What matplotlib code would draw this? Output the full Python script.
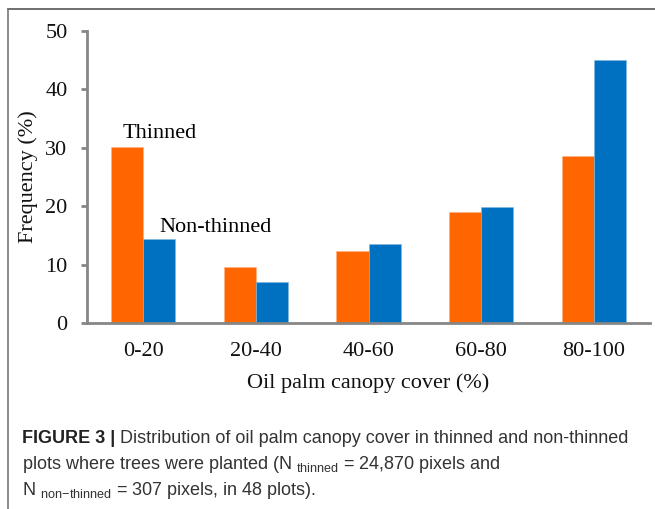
import numpy as np
import matplotlib
matplotlib.use("Agg")
import matplotlib.pyplot as plt
from matplotlib.lines import Line2D

# data
categories = ["0-20", "20-40", "40-60", "60-80", "80-100"]
thinned = [30.1, 9.6, 12.4, 19.0, 28.6]
non_thinned = [14.3, 7.1, 13.6, 19.8, 45.0]
yticks = [0, 10, 20, 30, 40, 50]

plt.rcParams['mathtext.fontset'] = 'custom'
plt.rcParams['mathtext.rm'] = 'Liberation Sans'
plt.rcParams['mathtext.it'] = 'Liberation Sans:italic'

W, H = 655, 509
fig = plt.figure(figsize=(W / 100, H / 100), dpi=100)
ax = fig.add_axes([87 / W, 1 - 323 / H, 563 / W, 292 / H])

serif = 'Liberation Serif'
gray = '#868686'
x = np.arange(len(categories))
w = 0.285
ax.bar(x - w / 2, thinned, w, color='#FF6600', edgecolor='#FFB080', linewidth=0.4)
ax.bar(x + w / 2, non_thinned, w, color='#0070C0', edgecolor='#80B8E0', linewidth=0.4)

ax.set_xlim(-0.5, 4.5)
ax.set_ylim(0, 50)
ax.set_xticks(x)
ax.set_xticklabels(categories)
ax.set_yticks(yticks)

for s in ['top', 'right']:
    ax.spines[s].set_visible(False)
for s in ['left', 'bottom']:
    ax.spines[s].set_color(gray)
    ax.spines[s].set_linewidth(2.0)

ax.tick_params(axis='y', direction='out', length=4, width=2.0, color=gray, pad=10)
ax.tick_params(axis='x', length=0, pad=14)
for lab in ax.get_xticklabels() + ax.get_yticklabels():
    lab.set_fontfamily(serif)
    lab.set_fontsize(16)
    lab.set_color('#111111')

ax.set_xlabel("Oil palm canopy cover (%)", fontfamily=serif, fontsize=16, color='#111111')
ax.xaxis.set_label_coords(0.5, -0.2226)
ax.xaxis.label.set_va('baseline')
ax.set_ylabel("Frequency (%)", fontfamily=serif, fontsize=16, color='#111111')
ax.yaxis.set_label_coords(-0.105, 0.5)
ax.yaxis.label.set_va('center')

ax.text(-0.187, 31.7, "Thinned", fontfamily=serif, fontsize=16, va='baseline', ha='left')
ax.text(0.142, 15.6, "Non-thinned", fontfamily=serif, fontsize=16, va='baseline', ha='left')

# frame around the figure panel
fig.add_artist(Line2D([7.5 / W, 1], [1 - 8.5 / H, 1 - 8.5 / H], color='#555555', lw=1.2))
fig.add_artist(Line2D([7.5 / W, 7.5 / W], [0, 1 - 8.5 / H], color='#777777', lw=1.2))

# caption
cap_size = 13.0
cx = 22.5 / W
t1 = fig.text(cx, 1 - 443 / H, "FIGURE 3 |", fontfamily='Liberation Sans', fontweight='bold',
              fontsize=cap_size, color='#222222', va='baseline')
r = fig.canvas.get_renderer()
bb = t1.get_window_extent(renderer=r)
fig.text(bb.x1 / W + 4 / W, 1 - 443 / H,
         "Distribution of oil palm canopy cover in thinned and non-thinned",
         fontfamily='Liberation Sans', fontsize=cap_size, color='#333333', va='baseline')
fig.text(cx, 1 - 469 / H, r"plots where trees were planted (N $_{\mathrm{thinned}}$ = 24,870 pixels and",
         fontfamily='Liberation Sans', fontsize=cap_size, color='#333333', va='baseline')
fig.text(cx, 1 - 495 / H, r"N $_{\mathrm{non\!-\!thinned}}$ = 307 pixels, in 48 plots).",
         fontfamily='Liberation Sans', fontsize=cap_size, color='#333333', va='baseline')

fig.savefig("out.png", dpi=100)
